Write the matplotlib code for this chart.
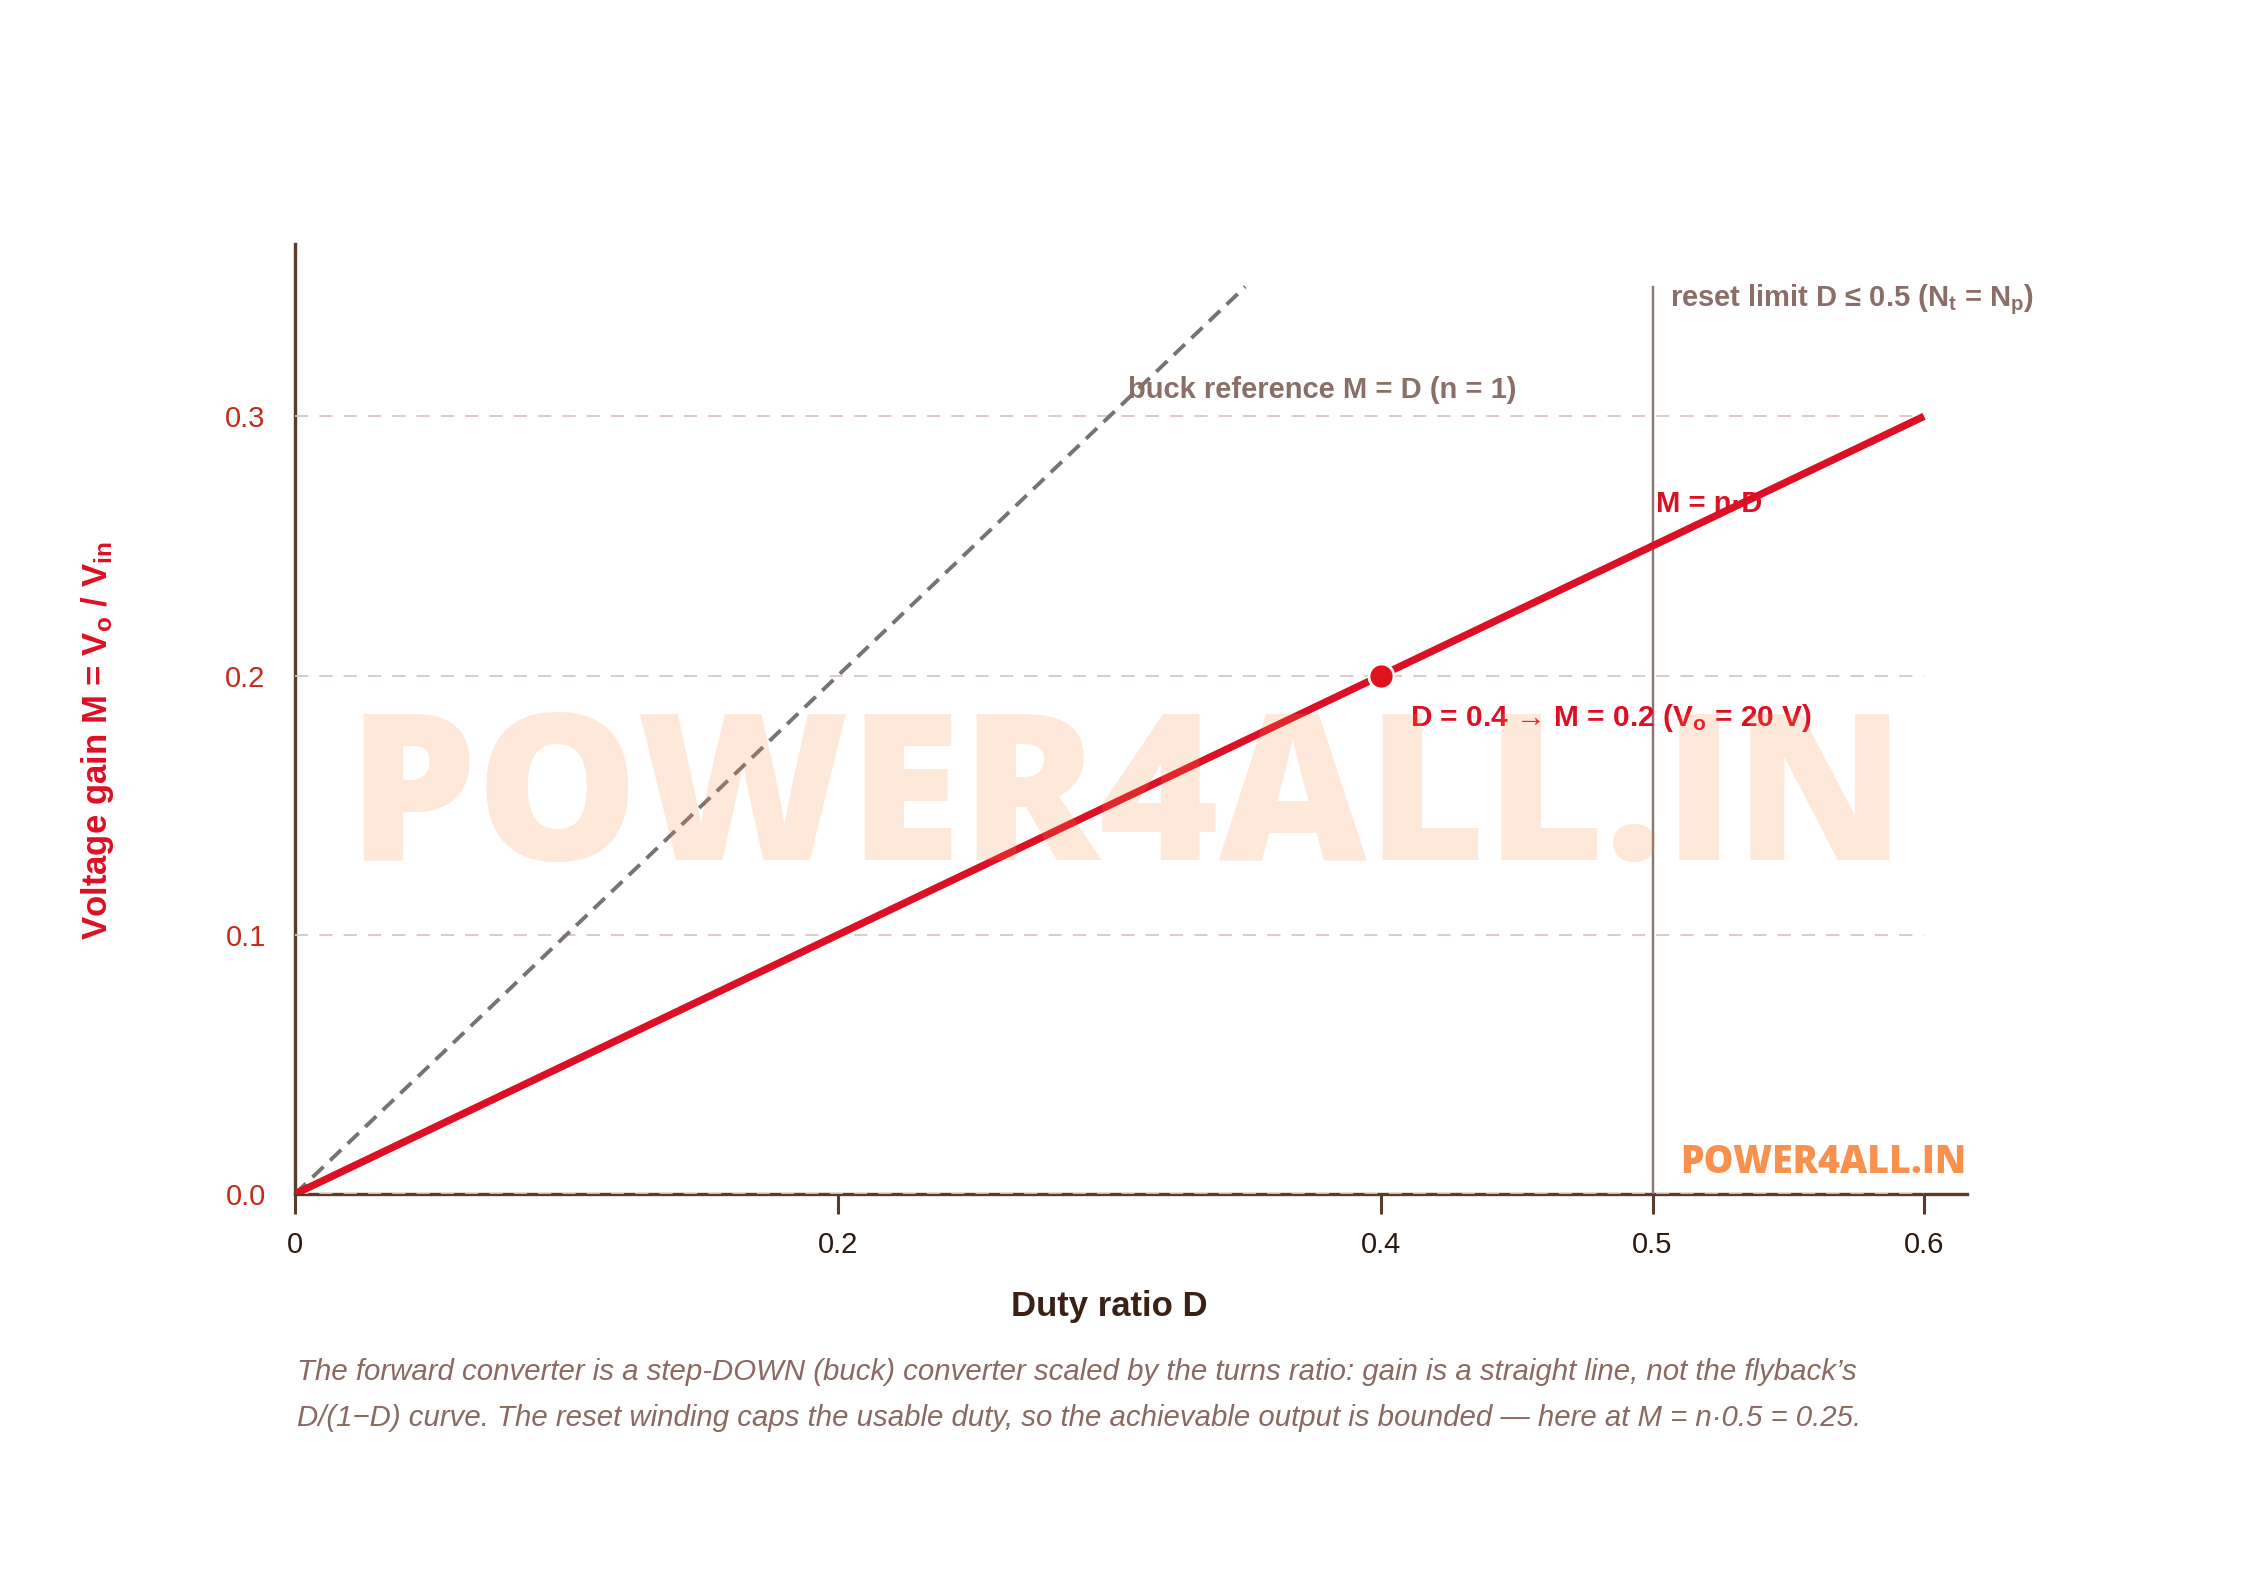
import matplotlib
matplotlib.use("Agg")
import matplotlib.pyplot as plt

# ---------------- data ----------------
duty = [0.0, 0.6]            # forward converter gain line (n = 0.5)
gain = [0.0, 0.3]
buck_duty = [0.0, 0.35]      # buck reference M = D
buck_gain = [0.0, 0.35]
op_duty = [0.4]              # operating point
op_gain = [0.2]
reset_duty = 0.5             # reset limit
reset_top = 0.35
grid_vals = [0.0, 0.1, 0.2, 0.3]
x_ticks = [0.0, 0.2, 0.4, 0.5, 0.6]
x_ticklabels = ["0", "0.2", "0.4", "0.5", "0.6"]
y_ticks = [0.0, 0.1, 0.2, 0.3]
y_ticklabels = ["0.0", "0.1", "0.2", "0.3"]

FONT = ["Liberation Sans", "DejaVu Sans"]
plt.rcParams["font.family"] = FONT
plt.rcParams["mathtext.fontset"] = "custom"
plt.rcParams["mathtext.rm"] = "Liberation Sans"
plt.rcParams["mathtext.bf"] = "Liberation Sans:bold"
plt.rcParams["mathtext.it"] = "Liberation Sans:italic"
plt.rcParams["lines.scale_dashes"] = False

RED = "#dc0f24"
BROWN = "#5b3a29"
MUTED = "#8b6f67"
GRID = "#dcc6c0"

fig = plt.figure(figsize=(22.46, 15.88), dpi=100)
ax = fig.add_axes([0.1313, 0.2481, 0.7447, 0.5983])
ax.set_xlim(0, 0.616)
ax.set_ylim(0, 0.3665)

for s in ["top", "right"]:
    ax.spines[s].set_visible(False)
for s in ["left", "bottom"]:
    ax.spines[s].set_color(BROWN)
    ax.spines[s].set_linewidth(2.4)
    ax.spines[s].set_zorder(2)

# grid lines (dashed, to D = 0.6)
for g in grid_vals:
    ax.plot([0, 0.6], [g, g], color=GRID, lw=1.3, dashes=(9.5, 8), zorder=3,
            solid_capstyle="butt")

# buck reference
ax.plot(buck_duty, buck_gain, color="#767372", lw=2.8, dashes=(11, 6.5), zorder=4)

# reset limit
ax.plot([reset_duty, reset_duty], [0, reset_top], color="#8a7470", lw=1.7, zorder=4)

# gain line
ax.plot(duty, gain, color=RED, lw=5.3, zorder=5, solid_capstyle="butt")
ax.plot(op_duty, op_gain, "o", color="#e0121c", ms=18, mec="white", mew=2.0, zorder=6)

# ticks
ax.set_xticks(x_ticks)
ax.set_xticklabels(x_ticklabels)
ax.set_yticks(y_ticks)
ax.set_yticklabels(y_ticklabels)
ax.tick_params(axis="x", direction="out", length=14.5, width=2.2, color=BROWN,
               pad=12, labelsize=21, labelcolor="#2b1a10")
ax.tick_params(axis="y", length=0, pad=21, labelsize=21, labelcolor="#c62a1a")

# axis labels
ax.set_xlabel("Duty ratio D", fontsize=25, fontweight="bold", color="#3b2115")
ax.xaxis.set_label_coords(0.3 / 0.616, -0.118)
ax.xaxis.label.set_va("center")
ax.set_ylabel(r"Voltage gain M = V$_\mathbf{o}$ / V$_\mathbf{in}$", fontsize=25,
              fontweight="bold", color="#dd1025")
ax.yaxis.set_label_coords(-0.118, 0.175 / 0.3665)
ax.yaxis.label.set_va("center")

# annotations
ax.text(0.3068, 0.31, "buck reference M = D (n = 1)", fontsize=21, fontweight="bold",
        color=MUTED, ha="left", va="center", zorder=7)
ax.text(0.5066, 0.345, r"reset limit D ≤ 0.5 (N$_\mathbf{t}$ = N$_\mathbf{p}$)",
        fontsize=21, fontweight="bold", color=MUTED, ha="left", va="center", zorder=7)
ax.text(0.5012, 0.266, "M = n·D", fontsize=21, fontweight="bold", color=RED,
        ha="left", va="center", zorder=7)
ax.text(0.4106, 0.1835, r"D = 0.4 → M = 0.2 (V$_\mathbf{o}$ = 20 V)", fontsize=21.5,
        fontweight="bold", color=RED, ha="left", va="center", zorder=7)

# watermarks
fig.text(0.5013, 0.4585, "POWER4ALL.IN", fontsize=147, fontweight="heavy",
         family=["Open Sans", "DejaVu Sans"], color="#fa8c46", alpha=0.2,
         ha="center", va="baseline", zorder=10)
fig.text(0.8755, 0.2615, "POWER4ALL.IN", fontsize=27, fontweight="heavy",
         family=["Open Sans", "DejaVu Sans"], color="#f7914d",
         ha="right", va="baseline", zorder=10)

# caption
caption1 = ("The forward converter is a step-DOWN (buck) converter scaled by the turns ratio: "
            "gain is a straight line, not the flyback’s")
caption2 = ("D/(1−D) curve. The reset winding caps the usable duty, so the achievable output "
            "is bounded — here at M = n·0.5 = 0.25.")
fig.text(297 / 2246, 1 - 1372 / 1588, caption1, fontsize=21.2, style="italic",
         color="#8a6a60", ha="left", va="center")
fig.text(297 / 2246, 1 - 1418 / 1588, caption2, fontsize=21.2, style="italic",
         color="#8a6a60", ha="left", va="center")

fig.savefig("out.png", dpi=100, facecolor="white")
